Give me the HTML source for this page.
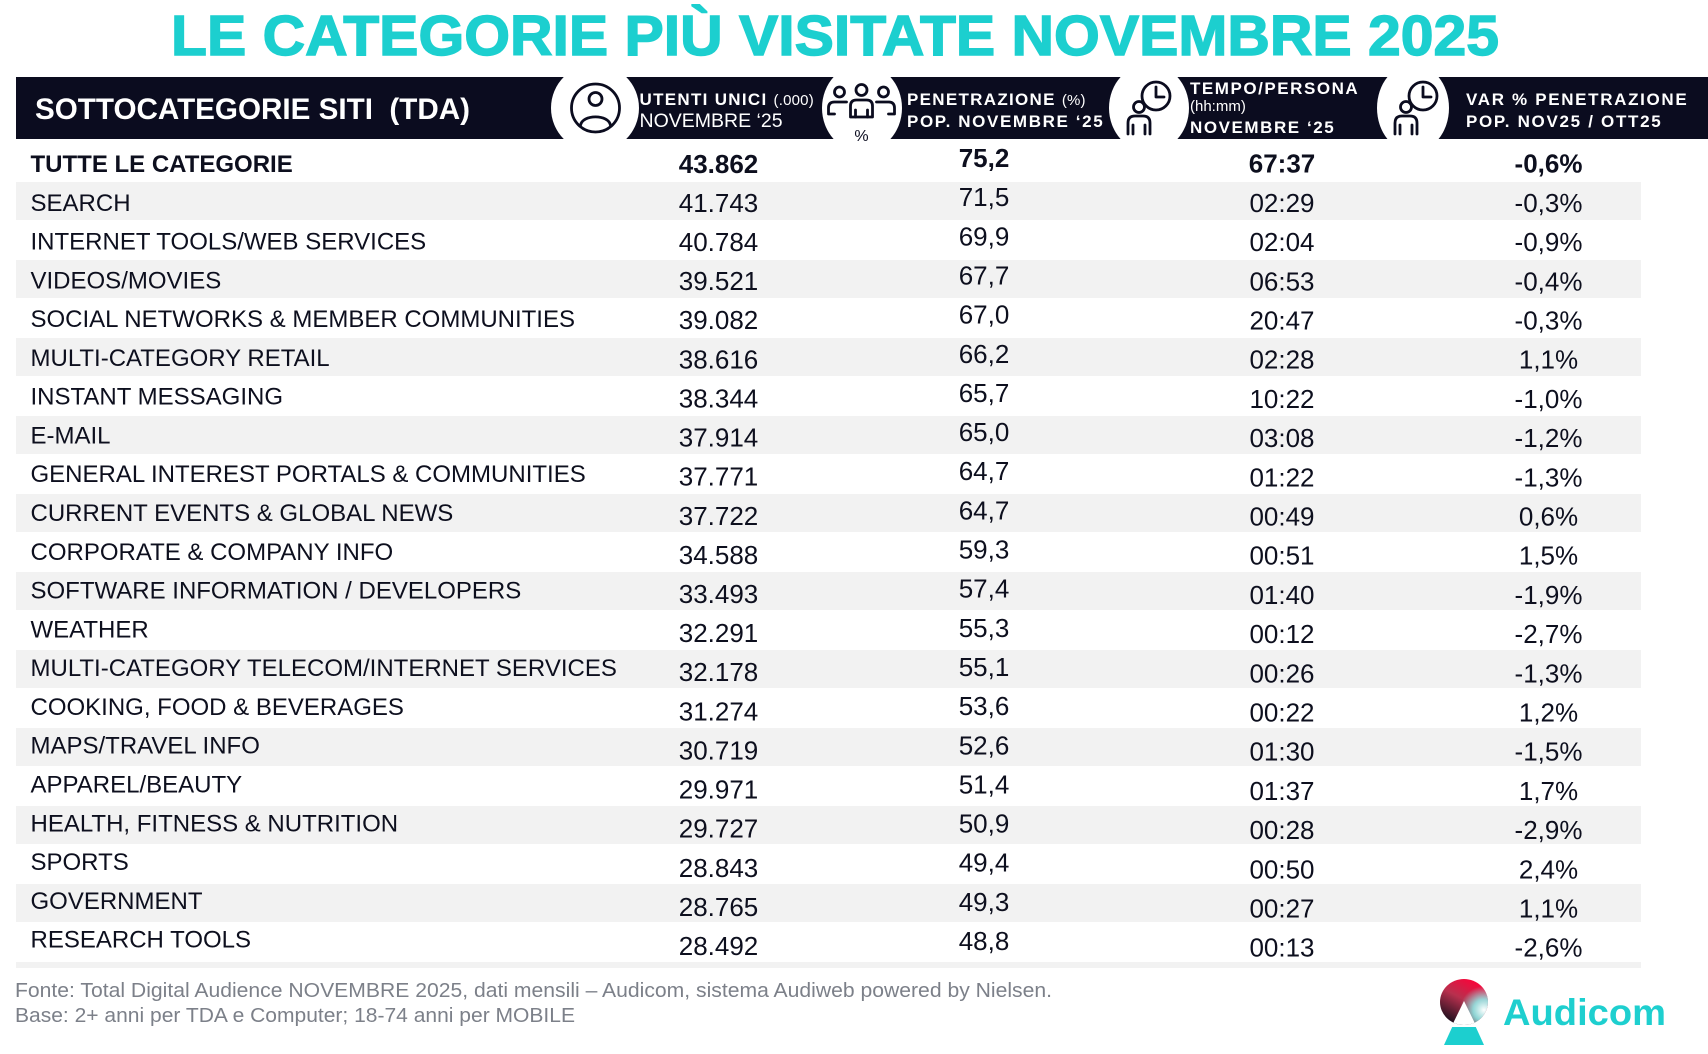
<!DOCTYPE html>
<html>
<head>
<meta charset="utf-8">
<style>
  html,body{margin:0;padding:0;background:#fff;}
  body{width:1708px;height:1054px;overflow:hidden;}
  svg{display:block;}
  text{font-family:"Liberation Sans",Arial,sans-serif;}
  .lab{font-size:24px;fill:#0d0f1e;}
  .num{font-size:26px;fill:#0d0f1e;text-anchor:middle;}
  .b{font-weight:bold;}
  .hd{fill:#fff;font-weight:bold;font-size:17px;letter-spacing:1.3px;}
  .hr{fill:#fff;font-size:19.5px;}
  .sm{font-size:15px;font-weight:normal;letter-spacing:0.2px;}
  .ft{font-size:20px;fill:#7c8089;}
  .ic{fill:none;stroke:#0b0c1f;stroke-width:2.8;stroke-linecap:round;stroke-linejoin:round;}
</style>
</head>
<body>
<svg width="1708" height="1054" viewBox="0 0 1708 1054" xmlns="http://www.w3.org/2000/svg">
  <defs>
    <linearGradient id="lg" x1="0.75" y1="0" x2="0.2" y2="1">
      <stop offset="0" stop-color="#ff0038"/>
      <stop offset="0.45" stop-color="#b8304e"/>
      <stop offset="1" stop-color="#0c0c18"/>
    </linearGradient>
    <radialGradient id="rg" cx="1484" cy="1010" r="24" gradientUnits="userSpaceOnUse">
      <stop offset="0" stop-color="#ffffff" stop-opacity="1"/>
      <stop offset="0.45" stop-color="#8ff3ee" stop-opacity="0.85"/>
      <stop offset="1" stop-color="#8ff3ee" stop-opacity="0"/>
    </radialGradient>
    <clipPath id="cc"><ellipse cx="1464" cy="1002" rx="24" ry="23"/></clipPath>
  </defs>

  <!-- Title -->
  <text x="171" y="55" font-size="57" font-weight="bold" fill="#1ccfcf" stroke="#1ccfcf" stroke-width="1.4" textLength="1328" lengthAdjust="spacingAndGlyphs">LE CATEGORIE PIÙ VISITATE NOVEMBRE 2025</text>

  <!-- Header bar -->
  <rect x="16" y="77" width="1692" height="62" fill="#0b0c1f"/>
  <ellipse cx="595" cy="108" rx="44" ry="44" fill="#fff"/>
  <ellipse cx="862" cy="108" rx="40" ry="44" fill="#fff"/>
  <ellipse cx="1149" cy="108" rx="40" ry="44" fill="#fff"/>
  <ellipse cx="1413" cy="108" rx="36" ry="44" fill="#fff"/>

  <text x="35" y="119" font-size="30" font-weight="bold" fill="#fff" style="white-space:pre" textLength="435" lengthAdjust="spacingAndGlyphs">SOTTOCATEGORIE SITI  (TDA)</text>

  <!-- icon 1: person in circle -->
  <circle class="ic" cx="595.5" cy="108" r="24"/>
  <circle class="ic" cx="595.5" cy="99" r="6.5"/>
  <path class="ic" d="M580.5 125.5 C582 114, 609 114, 610.5 125.5"/>

  <!-- icon 2: group with % -->
  <g transform="translate(-5.5 0)">
    <circle class="ic" cx="845" cy="92" r="5" stroke-width="2.5"/>
    <circle class="ic" cx="867" cy="90" r="5.5" stroke-width="2.5"/>
    <circle class="ic" cx="889" cy="92" r="5" stroke-width="2.5"/>
    <path class="ic" stroke-width="2.5" d="M856 117 V106 Q856 100 862 100 H872 Q878 100 878 106 V117 Z"/>
    <path class="ic" stroke-width="2.5" d="M852 102 H840 Q834 102 834 108 V114 H840"/>
    <path class="ic" stroke-width="2.5" d="M882 102 H894 Q900 102 900 108 V114 H894"/>
    <path class="ic" stroke-width="2" d="M861 110 V117 M873 110 V117"/>
    <text x="867" y="141" font-size="16" fill="#0b0c1f" text-anchor="middle">%</text>
  </g>

  <!-- icon 3: person + clock -->
  <g transform="translate(-8 0)">
    <circle class="ic" cx="1164" cy="96" r="14"/>
    <path class="ic" d="M1164 87 V97 H1172"/>
    <circle class="ic" cx="1147" cy="107" r="5.5"/>
    <path class="ic" d="M1136 134 V123 Q1136 116 1143 116 H1151 Q1158 116 1158 123 V134"/>
    <path class="ic" stroke-width="2" d="M1141 125 V134 M1153 125 V134"/>
  </g>
  <!-- icon 4 -->
  <g transform="translate(259 0)">
    <circle class="ic" cx="1164" cy="96" r="14"/>
    <path class="ic" d="M1164 87 V97 H1172"/>
    <circle class="ic" cx="1147" cy="107" r="5.5"/>
    <path class="ic" d="M1136 134 V123 Q1136 116 1143 116 H1151 Q1158 116 1158 123 V134"/>
    <path class="ic" stroke-width="2" d="M1141 125 V134 M1153 125 V134"/>
  </g>

  <!-- header texts -->
  <text class="hd" x="639.5" y="105">UTENTI UNICI <tspan class="sm">(.000)</tspan></text>
  <text class="hr" x="639.5" y="127">NOVEMBRE ‘25</text>

  <text class="hd" x="907" y="105">PENETRAZIONE <tspan class="sm">(%)</tspan></text>
  <text class="hd" x="907" y="127" textLength="197" lengthAdjust="spacing">POP. NOVEMBRE ‘25</text>

  <text class="hd" x="1190" y="94" textLength="169" lengthAdjust="spacing">TEMPO/PERSONA</text>
  <text x="1190" y="111" font-size="15" fill="#fff">(hh:mm)</text>
  <text class="hd" x="1190" y="133" textLength="145" lengthAdjust="spacing">NOVEMBRE ‘25</text>

  <text class="hd" x="1466" y="105" textLength="222" lengthAdjust="spacing">VAR % PENETRAZIONE</text>
  <text class="hd" x="1466" y="127" textLength="196" lengthAdjust="spacing">POP. NOV25 / OTT25</text>

  <!-- zebra rows -->
  <g fill="#f2f2f2">
    <rect x="16" y="182" width="1625" height="38"/>
    <rect x="16" y="260" width="1625" height="38"/>
    <rect x="16" y="338" width="1625" height="38"/>
    <rect x="16" y="416" width="1625" height="38"/>
    <rect x="16" y="494" width="1625" height="38"/>
    <rect x="16" y="572" width="1625" height="38"/>
    <rect x="16" y="650" width="1625" height="38"/>
    <rect x="16" y="728" width="1625" height="38"/>
    <rect x="16" y="806" width="1625" height="38"/>
    <rect x="16" y="884" width="1625" height="38"/>
    <rect x="16" y="962" width="1625" height="6"/>
  </g>

  <!-- labels -->
  <g class="lab">
    <text class="b" x="30.5" y="172">TUTTE LE CATEGORIE</text>
    <text x="30.5" y="210.8">SEARCH</text>
    <text x="30.5" y="249.6">INTERNET TOOLS/WEB SERVICES</text>
    <text x="30.5" y="288.3">VIDEOS/MOVIES</text>
    <text x="30.5" y="327.1">SOCIAL NETWORKS &amp; MEMBER COMMUNITIES</text>
    <text x="30.5" y="365.9">MULTI-CATEGORY RETAIL</text>
    <text x="30.5" y="404.7">INSTANT MESSAGING</text>
    <text x="30.5" y="443.5">E-MAIL</text>
    <text x="30.5" y="482.2">GENERAL INTEREST PORTALS &amp; COMMUNITIES</text>
    <text x="30.5" y="521">CURRENT EVENTS &amp; GLOBAL NEWS</text>
    <text x="30.5" y="559.8">CORPORATE &amp; COMPANY INFO</text>
    <text x="30.5" y="598.6">SOFTWARE INFORMATION / DEVELOPERS</text>
    <text x="30.5" y="637.4">WEATHER</text>
    <text x="30.5" y="676.1">MULTI-CATEGORY TELECOM/INTERNET SERVICES</text>
    <text x="30.5" y="714.9">COOKING, FOOD &amp; BEVERAGES</text>
    <text x="30.5" y="753.7">MAPS/TRAVEL INFO</text>
    <text x="30.5" y="792.5">APPAREL/BEAUTY</text>
    <text x="30.5" y="831.3">HEALTH, FITNESS &amp; NUTRITION</text>
    <text x="30.5" y="870">SPORTS</text>
    <text x="30.5" y="908.8">GOVERNMENT</text>
    <text x="30.5" y="947.6">RESEARCH TOOLS</text>
  </g>

  <!-- utenti -->
  <g class="num">
    <text class="b" x="718.5" y="172.8">43.862</text>
    <text x="718.5" y="211.9">41.743</text>
    <text x="718.5" y="251">40.784</text>
    <text x="718.5" y="290.1">39.521</text>
    <text x="718.5" y="329.2">39.082</text>
    <text x="718.5" y="368.4">38.616</text>
    <text x="718.5" y="407.5">38.344</text>
    <text x="718.5" y="446.6">37.914</text>
    <text x="718.5" y="485.7">37.771</text>
    <text x="718.5" y="524.8">37.722</text>
    <text x="718.5" y="563.9">34.588</text>
    <text x="718.5" y="603">33.493</text>
    <text x="718.5" y="642.1">32.291</text>
    <text x="718.5" y="681.2">32.178</text>
    <text x="718.5" y="720.3">31.274</text>
    <text x="718.5" y="759.5">30.719</text>
    <text x="718.5" y="798.6">29.971</text>
    <text x="718.5" y="837.7">29.727</text>
    <text x="718.5" y="876.8">28.843</text>
    <text x="718.5" y="915.9">28.765</text>
    <text x="718.5" y="955">28.492</text>
  </g>

  <!-- penetrazione -->
  <g class="num">
    <text class="b" x="984" y="167">75,2</text>
    <text x="984" y="206.2">71,5</text>
    <text x="984" y="245.3">69,9</text>
    <text x="984" y="284.5">67,7</text>
    <text x="984" y="323.6">67,0</text>
    <text x="984" y="362.8">66,2</text>
    <text x="984" y="401.9">65,7</text>
    <text x="984" y="441.1">65,0</text>
    <text x="984" y="480.2">64,7</text>
    <text x="984" y="519.4">64,7</text>
    <text x="984" y="558.5">59,3</text>
    <text x="984" y="597.7">57,4</text>
    <text x="984" y="636.8">55,3</text>
    <text x="984" y="676">55,1</text>
    <text x="984" y="715.1">53,6</text>
    <text x="984" y="754.3">52,6</text>
    <text x="984" y="793.4">51,4</text>
    <text x="984" y="832.6">50,9</text>
    <text x="984" y="871.7">49,4</text>
    <text x="984" y="910.9">49,3</text>
    <text x="984" y="950">48,8</text>
  </g>

  <!-- tempo -->
  <g class="num">
    <text class="b" x="1282" y="172.7">67:37</text>
    <text x="1282" y="211.9">02:29</text>
    <text x="1282" y="251.1">02:04</text>
    <text x="1282" y="290.3">06:53</text>
    <text x="1282" y="329.5">20:47</text>
    <text x="1282" y="368.7">02:28</text>
    <text x="1282" y="407.9">10:22</text>
    <text x="1282" y="447.1">03:08</text>
    <text x="1282" y="486.3">01:22</text>
    <text x="1282" y="525.5">00:49</text>
    <text x="1282" y="564.7">00:51</text>
    <text x="1282" y="603.9">01:40</text>
    <text x="1282" y="643.1">00:12</text>
    <text x="1282" y="682.3">00:26</text>
    <text x="1282" y="721.5">00:22</text>
    <text x="1282" y="760.7">01:30</text>
    <text x="1282" y="799.9">01:37</text>
    <text x="1282" y="839.1">00:28</text>
    <text x="1282" y="878.3">00:50</text>
    <text x="1282" y="917.5">00:27</text>
    <text x="1282" y="956.7">00:13</text>
  </g>

  <!-- var -->
  <g class="num">
    <text class="b" x="1548.5" y="172.7">-0,6%</text>
    <text x="1548.5" y="211.9">-0,3%</text>
    <text x="1548.5" y="251.1">-0,9%</text>
    <text x="1548.5" y="290.3">-0,4%</text>
    <text x="1548.5" y="329.5">-0,3%</text>
    <text x="1548.5" y="368.7">1,1%</text>
    <text x="1548.5" y="407.9">-1,0%</text>
    <text x="1548.5" y="447.1">-1,2%</text>
    <text x="1548.5" y="486.3">-1,3%</text>
    <text x="1548.5" y="525.5">0,6%</text>
    <text x="1548.5" y="564.7">1,5%</text>
    <text x="1548.5" y="603.9">-1,9%</text>
    <text x="1548.5" y="643.1">-2,7%</text>
    <text x="1548.5" y="682.3">-1,3%</text>
    <text x="1548.5" y="721.5">1,2%</text>
    <text x="1548.5" y="760.7">-1,5%</text>
    <text x="1548.5" y="799.9">1,7%</text>
    <text x="1548.5" y="839.1">-2,9%</text>
    <text x="1548.5" y="878.3">2,4%</text>
    <text x="1548.5" y="917.5">1,1%</text>
    <text x="1548.5" y="956.7">-2,6%</text>
  </g>

  <!-- footer -->
  <text class="ft" x="15" y="997" textLength="1037" lengthAdjust="spacingAndGlyphs">Fonte: Total Digital Audience NOVEMBRE 2025, dati mensili – Audicom, sistema Audiweb powered by Nielsen.</text>
  <text class="ft" x="15" y="1022" textLength="560" lengthAdjust="spacingAndGlyphs">Base: 2+ anni per TDA e Computer; 18-74 anni per MOBILE</text>

  <!-- logo -->
  <ellipse cx="1464" cy="1002" rx="24" ry="23" fill="url(#lg)"/>
  <ellipse cx="1464" cy="1002" rx="24" ry="23" fill="url(#rg)"/>
  <polygon points="1464,1001 1440,1050 1488,1050" fill="#ffffff" clip-path="url(#cc)"/>
  <polygon points="1452.2,1027 1475.8,1027 1484,1045 1444,1045" fill="#1ccfcf"/>
  <text x="1503" y="1025" font-size="37" font-weight="bold" fill="#1ecfcf" textLength="163" lengthAdjust="spacingAndGlyphs">Audicom</text>
</svg>
</body>
</html>
